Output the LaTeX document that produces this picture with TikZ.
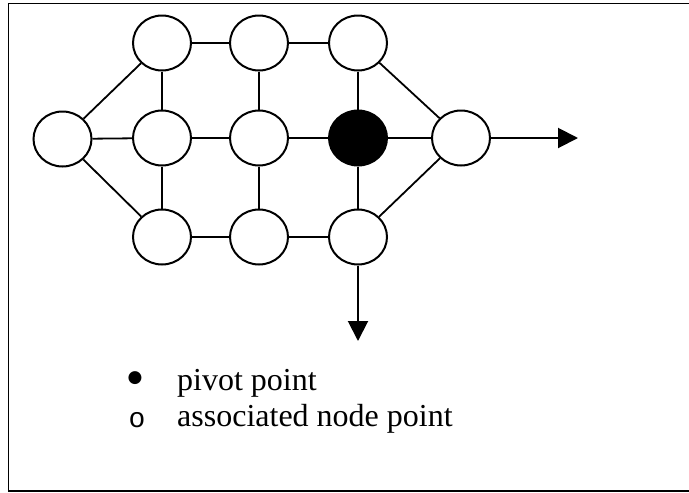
\documentclass[tikz,border=0pt]{standalone}
\usepackage{fontspec}
\setmainfont{Liberation Serif}
\newfontfamily\monofnt{Liberation Mono}
\newfontfamily\symfnt{DejaVu Sans}
\usetikzlibrary{arrows.meta,shapes.geometric}
\tikzset{
  nd/.style={draw, line width=2pt, shape=ellipse, minimum width=58pt, minimum height=55pt, inner sep=0pt, fill=white},
  pivot/.style={nd, fill=black},
  edge/.style={line width=1.8pt},
  outarrow/.style={line width=2pt, -{Triangle[length=20pt,width=20pt]}},
  legend/.style={anchor=base west, inner sep=0pt, font=\fontsize{32}{36}\selectfont},
  bulletmark/.style={anchor=center, inner sep=0pt}
}
\begin{document}
\begin{tikzpicture}[x=1pt,y=-1pt]
\useasboundingbox (0,0) rectangle (689,493);
\begin{scope}
\clip (0,0) rectangle (689,493);
\draw[line width=1.5pt] (8.5,3.5) rectangle (720,491);
\end{scope}
% nodes
\node[nd] (t1) at (162,43) {};
\node[nd] (t2) at (259,43) {};
\node[nd] (t3) at (358,43) {};
\node[nd] (m0) at (62.5,139) {};
\node[nd] (m1) at (162,138) {};
\node[nd] (m2) at (259,138) {};
\node[pivot] (m3) at (358,138) {};
\node[nd] (m4) at (461,138) {};
\node[nd] (b1) at (162,237) {};
\node[nd] (b2) at (259,237) {};
\node[nd] (b3) at (358,237) {};
\coordinate (aR) at (578,138);
\coordinate (aD) at (358,341);
% edges
\draw[edge] (t1) -- (t2);
\draw[edge] (t2) -- (t3);
\draw[edge] (t1) -- (m1);
\draw[edge] (t2) -- (m2);
\draw[edge] (t3) -- (m3);
\draw[edge] (m0) -- (m1);
\draw[edge] (m1) -- (m2);
\draw[edge] (m2) -- (m3);
\draw[edge] (m3) -- (m4);
\draw[edge] (m1) -- (b1);
\draw[edge] (m2) -- (b2);
\draw[edge] (m3) -- (b3);
\draw[edge] (b1) -- (b2);
\draw[edge] (b2) -- (b3);
\draw[edge] (m0) -- (t1);
\draw[edge] (m0) -- (b1);
\draw[edge] (t3) -- (m4);
\draw[edge] (b3) -- (m4);
\draw[outarrow] (m4) -- (aR);
\draw[outarrow] (b3) -- (aD);
% legend
\node[bulletmark, font=\symfnt\fontsize{17}{17}\selectfont] (bul) at (135,378) {●};
\node[legend] (l1) at (177,390) {pivot point};
\node[bulletmark, font=\monofnt\fontsize{28}{30}\selectfont] (circ) at (137,420) {o};
\node[legend] (l2) at (177,426) {associated node point};
\end{tikzpicture}
\end{document}
